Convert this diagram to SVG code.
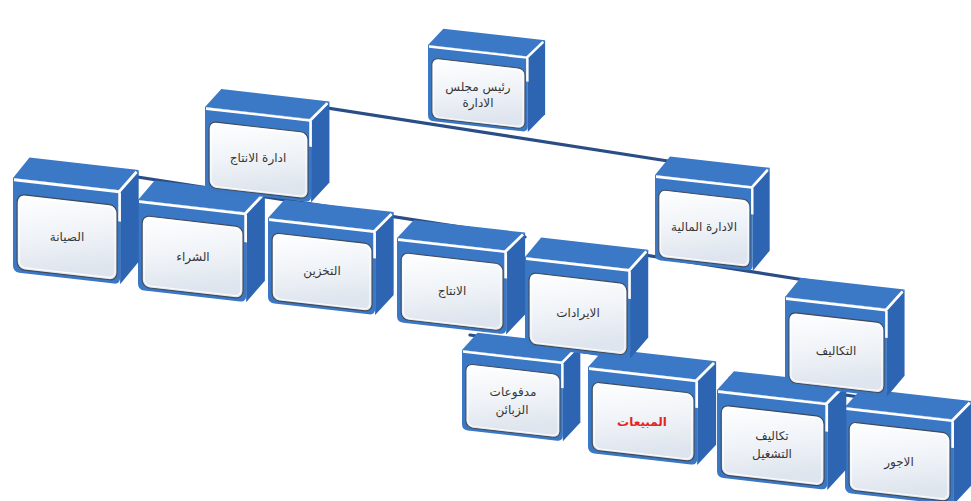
<svg xmlns="http://www.w3.org/2000/svg" xmlns:xlink="http://www.w3.org/1999/xlink" width="971" height="501" viewBox="0 0 971 501">
  <style>
    .top { fill: #3b78c5; }
    .side { fill: #2d65b2; }
    .frame { fill: #3a77c4; }
    .panel { fill: url(#panelGrad); stroke: #3f4a5a; stroke-width: 1.1; }
    .lip { fill: none; stroke: #ffffff; stroke-width: 2.6; stroke-linejoin: round; }
    .hl { fill: none; stroke: #ffffff; stroke-width: 1; opacity: 0.9; }
    .link { fill: none; stroke: #2a4d86; stroke-width: 3.2; stroke-linecap: round; }
    .lbl { font-family: "DejaVu Sans", sans-serif; font-size: 12px; fill: #363636; text-anchor: middle; dominant-baseline: central; }
    .red { fill: #e3241f; font-weight: bold; }
  </style>
  <defs>
    <linearGradient id="panelGrad" x1="0" y1="0" x2="0.3" y2="1">
      <stop offset="0" stop-color="#ffffff"/>
      <stop offset="0.6" stop-color="#eef2f7"/>
      <stop offset="1" stop-color="#dfe5ee"/>
    </linearGradient>
    <!-- one bevelled 3D box: front face 104 x 84, depth towards upper right -->
    <g id="box">
      <polygon class="side" points="104,0 122,-20 122,62 104,84"/>
      <polygon class="top" points="0,0 16,-20 122,-20 104,0"/>
      <path class="frame" d="M0,0 H104 V78 Q104,84 98,84 H6 Q0,84 0,78 Z"/>
      <rect class="panel" x="4" y="14" width="97" height="67" rx="7"/>
      <rect class="hl" x="6" y="16" width="93" height="63" rx="6"/>
      <polyline class="lip" points="1,1.5 103,1.5 120,-18"/>
      <line class="lip" x1="103.5" y1="2" x2="103.5" y2="28"/>
    </g>
  </defs>

  <rect width="971" height="501" fill="#ffffff"/>

  <!-- connectors -->
  <g id="connectors">
    <line class="link" x1="250" y1="96" x2="700" y2="166"/>
    <line class="link" x1="60" y1="165" x2="525" y2="237"/>
    <line class="link" x1="600" y1="248" x2="830" y2="284"/>
    <line class="link" x1="470" y1="335" x2="705" y2="370"/>
    <line class="link" x1="730" y1="378" x2="960" y2="412"/>
  </g>

  <!-- bottom row -->
  <g id="n-ajour">
    <use xlink:href="#box" transform="translate(845,407) skewY(6.5) scale(1.04,1.02)"/>
    <text class="lbl" x="899" y="462">الاجور</text>
  </g>
  <g id="n-takalif-tashghil">
    <use xlink:href="#box" transform="translate(717,390) skewY(6.5) scale(1.06,1.04)"/>
    <text class="lbl" x="772" y="436">تكاليف</text>
    <text class="lbl" x="772" y="454">التشغيل</text>
  </g>
  <g id="n-mabiaat">
    <use xlink:href="#box" transform="translate(588,367) skewY(6.5) scale(1.05,1.02)"/>
    <text class="lbl red" x="642" y="422">المبيعات</text>
  </g>
  <g id="n-madfouat">
    <use xlink:href="#box" transform="translate(462,350) skewY(6.5) scale(0.97,0.95)"/>
    <text class="lbl" x="513" y="392">مدفوعات</text>
    <text class="lbl" x="512" y="410">الزبائن</text>
  </g>

  <!-- third row -->
  <g id="n-takalif">
    <use xlink:href="#box" transform="translate(785,297) skewY(6.5) scale(0.98,1.05)"/>
    <text class="lbl" x="836" y="351">التكاليف</text>
  </g>
  <g id="n-iradat">
    <use xlink:href="#box" transform="translate(525,257) skewY(6.5) scale(1.01,1.07)"/>
    <text class="lbl" x="578" y="313">الايرادات</text>
  </g>
  <g id="n-intaj">
    <use xlink:href="#box" transform="translate(397,238) skewY(6.5) scale(1.05,1.0)"/>
    <text class="lbl" x="452" y="291">الانتاج</text>
  </g>
  <g id="n-takhzin">
    <use xlink:href="#box" transform="translate(268,218) skewY(6.5) scale(1.03,1.01)"/>
    <text class="lbl" x="322" y="271">التخزين</text>
  </g>
  <g id="n-shiraa">
    <use xlink:href="#box" transform="translate(138,200) skewY(6.5) scale(1.04,1.07)"/>
    <text class="lbl" x="193" y="257">الشراء</text>
  </g>
  <g id="n-siyana">
    <use xlink:href="#box" transform="translate(13,178) skewY(6.5) scale(1.03,1.12)"/>
    <text class="lbl" x="67" y="237">الصيانة</text>
  </g>

  <!-- second row -->
  <g id="n-idara-maliya">
    <use xlink:href="#box" transform="translate(655,175) skewY(6.5) scale(0.94,1.01)"/>
    <text class="lbl" x="704" y="227">الادارة المالية</text>
  </g>
  <g id="n-idara-intaj">
    <use xlink:href="#box" transform="translate(205,107) skewY(6.5) scale(1.02,0.99)"/>
    <text class="lbl" x="258" y="158">ادارة الانتاج</text>
  </g>

  <!-- top -->
  <g id="n-rais">
    <use xlink:href="#box" transform="translate(428,45) skewY(6.5) scale(0.96,0.9)"/>
    <text class="lbl" x="478" y="87">رئيس مجلس</text>
    <text class="lbl" x="478" y="103">الادارة</text>
  </g>
</svg>
